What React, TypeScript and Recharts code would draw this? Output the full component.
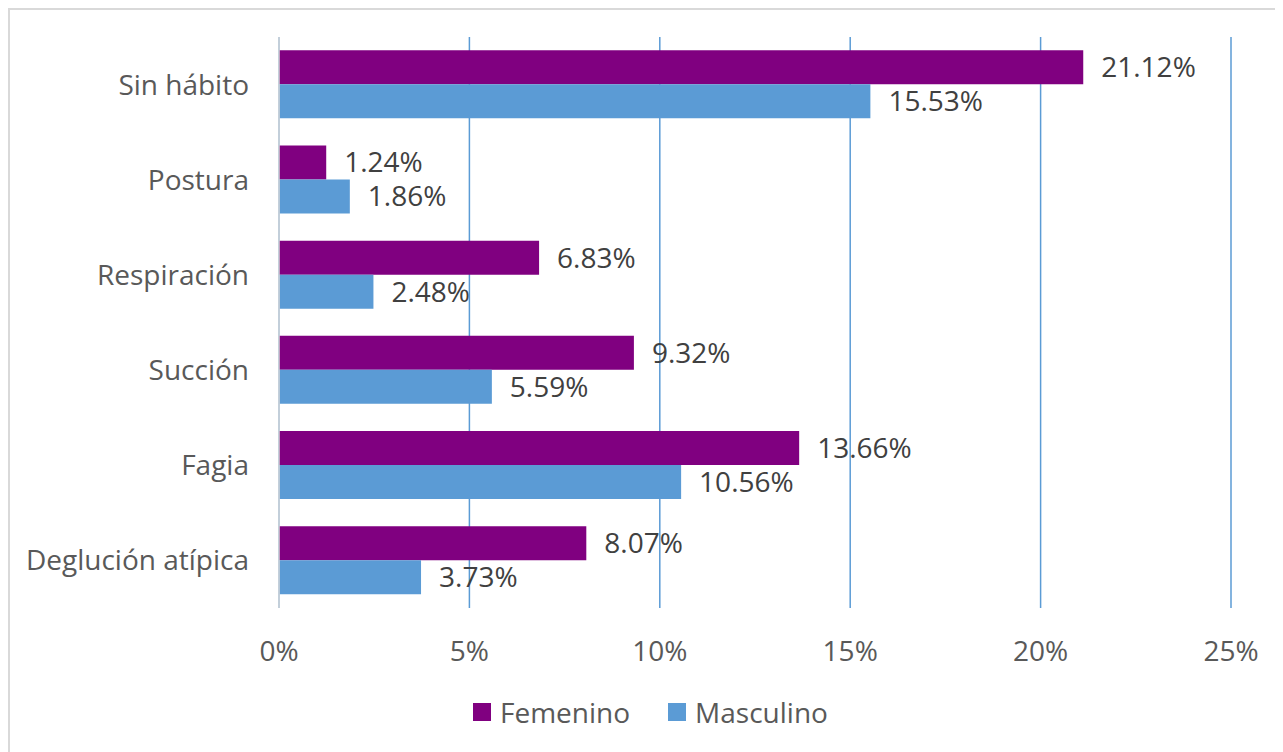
import React from "react";
import {
  BarChart,
  Bar,
  XAxis,
  YAxis,
  CartesianGrid,
  Legend,
  LabelList,
} from "recharts";

const categories = [
  "Sin hábito",
  "Postura",
  "Respiración",
  "Succión",
  "Fagia",
  "Deglución atípica",
];
const femenino = [21.12, 1.24, 6.83, 9.32, 13.66, 8.07];
const masculino = [15.53, 1.86, 2.48, 5.59, 10.56, 3.73];
const xTicks = [0, 5, 10, 15, 20, 25];

const COLORS = { femenino: "#800080", masculino: "#5B9BD5" };
const FONT = "'Open Sans', sans-serif";
const FS = 28;

const data = categories.map((name, i) => ({
  name,
  femenino: femenino[i],
  masculino: masculino[i],
}));

const pct = (v: number) => `${v.toFixed(2)}%`;

// leyenda propia para poder colocarla igual que en la imagen
const renderLegend = (props: any) => {
  const items = props.payload || [];
  return (
    <div
      style={{
        display: "flex",
        alignItems: "center",
        height: 40,
        paddingLeft: 463,
        fontFamily: FONT,
        fontSize: FS,
        color: "#595959",
      }}
    >
      {items.map((it: any, i: number) => (
        <div
          key={`leg-${i}`}
          style={{ display: "flex", alignItems: "center", marginRight: 38 }}
        >
          <span
            style={{
              width: 18,
              height: 18,
              background: it.color,
              display: "inline-block",
              marginRight: 9,
            }}
          />
          <span>{it.value}</span>
        </div>
      ))}
    </div>
  );
};

export default function App() {
  return (
    <div
      style={{
        width: 1273,
        height: 742,
        borderTop: "2px solid #D9D9D9",
        borderLeft: "2px solid #D9D9D9",
        background: "#fff",
      }}
    >
      <BarChart
        width={1273}
        height={742}
        data={data}
        layout="vertical"
        margin={{ top: 27, right: 52, left: 0, bottom: 20 }}
        barCategoryGap="14%"
        barGap={0}
      >
        <CartesianGrid
          horizontal={false}
          stroke="#5B9BD5"
          strokeWidth={1.5}
        />
        <XAxis
          type="number"
          domain={[0, 25]}
          ticks={xTicks}
          tickFormatter={(v: number) => `${v}%`}
          axisLine={false}
          tickLine={false}
          tickMargin={27}
          height={84}
          tick={{ fill: "#595959", fontSize: FS, fontFamily: FONT }}
        />
        <YAxis
          type="category"
          dataKey="name"
          width={269}
          axisLine={{ stroke: "#D9D9D9", strokeWidth: 1.5 }}
          tickLine={false}
          tickMargin={24}
          tick={{ fill: "#595959", fontSize: FS, fontFamily: FONT }}
        />
        <Legend
          verticalAlign="bottom"
          height={40}
          content={renderLegend}
        />
        <Bar
          dataKey="femenino"
          name="Femenino"
          fill={COLORS.femenino}
          isAnimationActive={false}
        >
          <LabelList
            dataKey="femenino"
            position="right"
            offset={18}
            formatter={pct}
            fill="#404040"
            fontSize={FS}
            fontFamily={FONT}
          />
        </Bar>
        <Bar
          dataKey="masculino"
          name="Masculino"
          fill={COLORS.masculino}
          isAnimationActive={false}
        >
          <LabelList
            dataKey="masculino"
            position="right"
            offset={18}
            formatter={pct}
            fill="#404040"
            fontSize={FS}
            fontFamily={FONT}
          />
        </Bar>
      </BarChart>
    </div>
  );
}
